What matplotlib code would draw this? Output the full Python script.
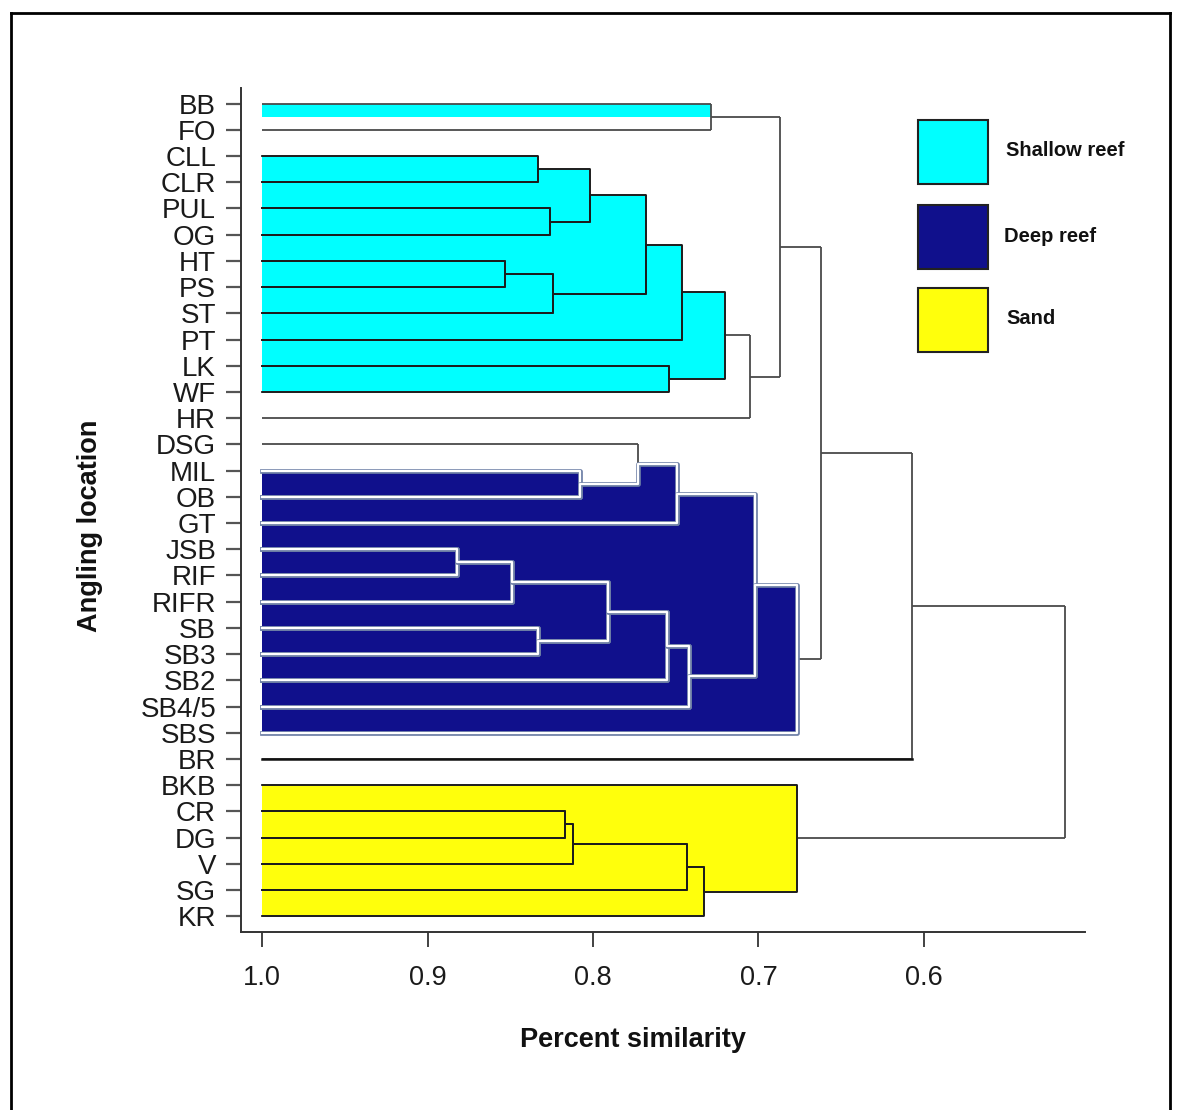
import matplotlib
matplotlib.use("Agg")
import matplotlib.pyplot as plt
import matplotlib.patheffects as pe
from matplotlib.patches import Rectangle
from matplotlib.lines import Line2D

plt.rcParams['font.family'] = ['Liberation Sans', 'DejaVu Sans']

# leaf order, top to bottom
leaves = ["BB", "FO", "CLL", "CLR", "PUL", "OG", "HT", "PS", "ST", "PT", "LK",
          "WF", "HR", "DSG", "MIL", "OB", "GT", "JSB", "RIF", "RIFR", "SB",
          "SB3", "SB2", "SB4/5", "SBS", "BR", "BKB", "CR", "DG", "V", "SG", "KR"]

# merge steps: new node, upper child, lower child, similarity of the join
merge_nodes = ["s1", "s2", "s3", "s4", "s5", "s6", "s7", "s8", "s9", "s10", "s11", "s12",
               "d1", "d2", "d3", "d4", "d5", "d6", "d7", "d8", "d9", "d10", "d11",
               "a1", "a2", "n1", "n2", "n3", "n4", "n5", "root"]
merge_upper = ["BB", "CLL", "PUL", "s2", "HT", "s5", "s4", "s7", "LK", "s8", "s10", "s1",
               "MIL", "DSG", "d2", "JSB", "d4", "SB", "d5", "d7", "d8", "d3", "d10",
               "s12", "a1", "CR", "n1", "n2", "n3", "BKB", "a2"]
merge_lower = ["FO", "CLR", "OG", "s3", "PS", "ST", "s6", "PT", "WF", "s9", "HR", "s11",
               "OB", "d1", "GT", "RIF", "RIFR", "SB3", "d6", "SB2", "SB4/5", "d9", "SBS",
               "d11", "BR", "DG", "V", "SG", "KR", "n4", "n5"]
merge_sim = [0.729, 0.833, 0.826, 0.802, 0.853, 0.824, 0.768, 0.746, 0.754, 0.720, 0.705, 0.687,
             0.808, 0.773, 0.749, 0.882, 0.849, 0.833, 0.791, 0.755, 0.742, 0.702, 0.677,
             0.662, 0.607, 0.817, 0.812, 0.743, 0.733, 0.677, 0.515]

# habitat groups and the clusters shaded for each
group_names = ["Shallow reef", "Deep reef", "Sand"]
group_clusters = [["s2", "s3", "s4", "s5", "s6", "s7", "s8", "s9", "s10"],
                  ["d1", "d3", "d4", "d5", "d6", "d7", "d8", "d9", "d10", "d11"],
                  ["n1", "n2", "n3", "n4", "n5"]]
group_single = [["BB"], [], []]

x_ticks = [1.0, 0.9, 0.8, 0.7, 0.6]

fill_colors = ["#00ffff", "#10108c", "#ffff0c"]

ypos = {name: i for i, name in enumerate(leaves)}
kids = {}
height = {}
parent = {}
for node, a, b, h in zip(merge_nodes, merge_upper, merge_lower, merge_sim):
    kids[node] = (a, b)
    height[node] = h
    ypos[node] = (ypos[a] + ypos[b]) / 2.0
    parent[a] = node
    parent[b] = node


def edge_path(n, x_start, side):
    # trace the outline of a subtree from its joining line back to x = 1.0
    pts = [(x_start, ypos[n])]
    if n in kids:
        h = height[n]
        pts.append((h, ypos[n]))
        pts += edge_path(kids[n][side], h, side)
    else:
        pts.append((1.0, ypos[n]))
    return pts


def enclosed(n):
    a, b = kids[n]
    h = height[n]
    return edge_path(a, h, 1)[::-1] + edge_path(b, h, 0)


fig = plt.figure(figsize=(11.81, 11.10), dpi=100)
ax = fig.add_axes([0.2041, 0.1604, 0.7146, 0.7604])

# shaded clusters
for gi, clusters in enumerate(group_clusters):
    for n in clusters:
        pts = enclosed(n)
        ax.fill([p[0] for p in pts], [p[1] for p in pts], color=fill_colors[gi],
                lw=0, zorder=1)
    for leaf in group_single[gi]:
        p = parent[leaf]
        ax.fill([1.0, height[p], height[p], 1.0],
                [ypos[leaf], ypos[leaf], ypos[p], ypos[p]],
                color=fill_colors[gi], lw=0, zorder=1)

# dendrogram branches
for node, a, b, h in zip(merge_nodes, merge_upper, merge_lower, merge_sim):
    for c in (a, b):
        ax.plot([height.get(c, 1.0), h], [ypos[c], ypos[c]], color="#4a4a4a",
                lw=1.3, zorder=2, solid_capstyle="butt")
    ax.plot([h, h], [ypos[a], ypos[b]], color="#4a4a4a", lw=1.3, zorder=2,
            solid_capstyle="butt")

ax.plot([1.0, height["a2"]], [ypos["BR"], ypos["BR"]], color="#111111", lw=1.8, zorder=3)

# branch outlines inside the shaded clusters
for gi, clusters in enumerate(group_clusters):
    for n in clusters:
        pts = enclosed(n)
        xs = [p[0] for p in pts]
        ys = [p[1] for p in pts]
        if gi == 1:
            ax.plot(xs, ys, color="white", lw=1.6, zorder=3,
                    path_effects=[pe.Stroke(linewidth=3.4, foreground="#6d7fa6"), pe.Normal()])
        else:
            ax.plot(xs, ys, color="#1c1c1c", lw=1.3, zorder=3)

ax.set_xlim(1.0127, 0.5027)
ax.set_ylim(31.6, -0.6)

ax.set_yticks(range(len(leaves)))
ax.set_yticklabels(leaves, fontsize=20, color="#1a1a1a")
ax.set_xticks(x_ticks)
ax.set_xticklabels(["%.1f" % v for v in x_ticks], fontsize=19.5, color="#1a1a1a")
ax.tick_params(axis="y", length=11, width=1.6, color="#555555", pad=7)
ax.tick_params(axis="x", length=11, width=1.3, color="#333333", pad=13)

for side in ["top", "right"]:
    ax.spines[side].set_visible(False)
ax.spines["left"].set_color("#333333")
ax.spines["bottom"].set_color("#333333")
ax.spines["left"].set_linewidth(1.4)
ax.spines["bottom"].set_linewidth(1.4)

fig.text(633 / 1181, 1 - 1040 / 1110, "Percent similarity", fontsize=19.5,
         fontweight="bold", ha="center", va="center", color="#111111")
fig.text(90 / 1181, 1 - 526 / 1110, "Angling location", fontsize=19.5,
         fontweight="bold", ha="center", va="center", rotation=90, color="#111111")

# legend boxes
legend_top = [120, 205, 288]
legend_text_x = [1006, 1004, 1006]
for gi, name in enumerate(group_names):
    top = legend_top[gi]
    fig.add_artist(Rectangle((918 / 1181, 1 - (top + 64) / 1110), 70 / 1181, 64 / 1110,
                             transform=fig.transFigure, facecolor=fill_colors[gi],
                             edgecolor="#222222", lw=1.5))
    fig.text(legend_text_x[gi] / 1181, 1 - (top + 31) / 1110, name, fontsize=14.5,
             fontweight="bold", ha="left", va="center", color="#111111")

# frame around the figure
for xs, ys in [([11, 11], [1110, 13]), ([11, 1170], [13, 13]), ([1170, 1170], [13, 1110])]:
    fig.add_artist(Line2D([x / 1181 for x in xs], [1 - y / 1110 for y in ys],
                          transform=fig.transFigure, color="black", lw=2))

fig.savefig("out.png", dpi=100)
